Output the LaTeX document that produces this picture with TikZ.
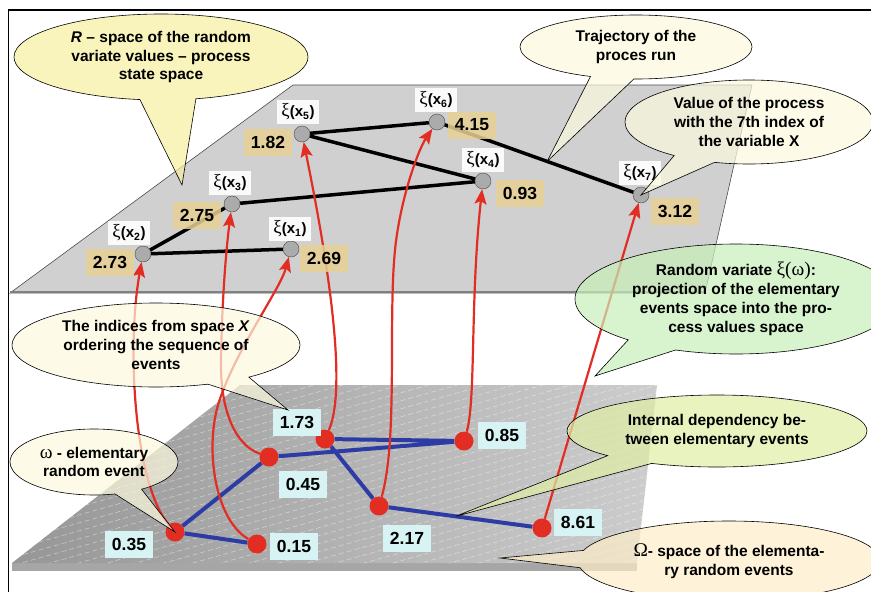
\documentclass[tikz,border=0pt]{standalone}
\usepackage{fontspec}
\setmainfont{Liberation Sans}
\newfontfamily\symfont[Scale=1.25]{Liberation Serif}
\usetikzlibrary{shapes.callouts,shapes.geometric,arrows.meta,calc}

\definecolor{planeup}{RGB}{208,208,208}
\definecolor{planelo}{RGB}{150,150,150}
\definecolor{planelotwo}{RGB}{205,205,205}
\definecolor{evred}{RGB}{226,45,35}
\definecolor{depblue}{RGB}{45,60,165}
\definecolor{valtan}{RGB}{232,208,148}
\definecolor{evcyan}{RGB}{215,243,243}
\definecolor{bubyellow}{RGB}{247,239,160}
\definecolor{bubcream}{RGB}{252,250,222}
\definecolor{bubgreen}{RGB}{200,240,185}
\definecolor{bublime}{RGB}{222,238,165}
\definecolor{bubpeach}{RGB}{253,238,200}

\newcommand{\gr}[1]{{\symfont\mdseries #1}}

\tikzset{
	xinode/.style={circle,draw=black!70,fill=black!33,minimum size=16pt,inner sep=0pt},
	evnode/.style={circle,fill=evred,minimum size=19pt,inner sep=0pt},
	xilabel/.style={fill=white,fill opacity=.9,text opacity=1,minimum width=42pt,minimum height=24pt,inner sep=0pt,font=\fontsize{15}{17}\selectfont\bfseries},
	valbox/.style={fill=valtan,fill opacity=.85,text opacity=1,minimum width=48pt,minimum height=27pt,inner sep=0pt,font=\fontsize{17.5}{20}\selectfont\bfseries},
	evbox/.style={valbox,fill=evcyan,fill opacity=1},
	traj/.style={line width=3.5pt,black},
	dep/.style={line width=4pt,depblue},
	proj/.style={line width=2.2pt,evred,-{Stealth[length=15pt,width=12pt,inset=3pt]}},
	bubble/.style={ellipse callout,draw=black,line width=.6pt,fill opacity=.7,text opacity=1,align=center,inner sep=0pt,font=\fontsize{15.5}{18.8}\selectfont\bfseries},
	stripe/.style={white,opacity=.45,line width=.6pt,dash pattern=on 5pt off 3pt}
}

\begin{document}
\begin{tikzpicture}[x=1pt,y=-1pt]
	\useasboundingbox (0,0) rectangle (871,592);
	\draw[line width=1.2pt] (871,10) -- (8.5,10) -- (8.5,592);
	
	%LOWER PLANE
	\fill[black!35] (12,563) rectangle (637,571);
	\shade[left color=planelo,right color=planelotwo] (240,385) -- (657,385) -- (637,563) -- (12,563) -- cycle;
	\begin{scope}
		\clip (240,385) -- (657,385) -- (637,563) -- (12,563) -- cycle;
		\foreach \k in {0,...,46}
			\draw[stripe] (0,385+8*\k) -- ++(700,-196);
	\end{scope}
	
	%UPPER PLANE
	\filldraw[fill=planeup,draw=black!70,line width=.6pt] (293,85) -- (752,85) -- (705,293) -- (10,293) -- cycle;
	\draw[black!50,line width=2.5pt] (10,292) -- (705,292);
	
	%ELEMENTARY EVENTS
	\node[evnode] (e1) at (257,544) {};
	\node[evnode] (e2) at (175,532) {};
	\node[evnode] (e3) at (269,457) {};
	\node[evnode] (e4) at (464,441) {};
	\node[evnode] (e5) at (325,439) {};
	\node[evnode] (e6) at (379,506) {};
	\node[evnode] (e7) at (542,528) {};
	\draw[dep] (e1) -- (e2) -- (e3) -- (e4) -- (e5) -- (e6) -- (e7);
	
	\node[evbox] (w1) at (294,546) {0.15};
	\node[evbox] (w2) at (129,544) {0.35};
	\node[evbox] (w3) at (303,484) {0.45};
	\node[evbox] (w4) at (502,435) {0.85};
	\node[evbox] (w5) at (297,422) {1.73};
	\node[evbox] (w6) at (407,538) {2.17};
	\node[evbox] (w7) at (578,522) {8.61};
	
	%PROCESS VALUES
	\node[xinode] (xi1) at (291,249) {};
	\node[xinode] (xi2) at (143,254) {};
	\node[xinode] (xi3) at (232,204) {};
	\node[xinode] (xi4) at (483,181) {};
	\node[xinode] (xi5) at (302,134) {};
	\node[xinode] (xi6) at (437,122) {};
	\node[xinode] (xi7) at (641,195) {};
	\draw[traj] (xi1) -- (xi2) -- (xi3) -- (xi4) -- (xi5) -- (xi6) -- (xi7);
	
	%PROJECTIONS
	\draw[proj] (e1) .. controls (215,520) and (205,450) .. (218,405) .. controls (235,350) and (280,290) .. (xi1);
	\draw[proj] (e2) .. controls (135,485) and (126,350) .. (xi2);
	\draw[proj] (e3) .. controls (235,445) and (220,410) .. (221,360) .. controls (222,300) and (226,250) .. (xi3);
	\draw[proj] (e4) .. controls (476,400) and (470,300) .. (xi4);
	\draw[proj] (e5) .. controls (342,400) and (340,320) .. (xi5);
	\draw[proj] (e6) .. controls (398,440) and (388,320) .. (395,250) .. controls (400,200) and (418,150) .. (xi6);
	\draw[proj] (e7) -- (xi7);
	
	\node[xilabel] (l1) at (290,229) {\gr{ξ}(x\textsubscript{1})};
	\node[xilabel] (l2) at (129,233) {\gr{ξ}(x\textsubscript{2})};
	\node[xilabel] (l3) at (230,183) {\gr{ξ}(x\textsubscript{3})};
	\node[xilabel] (l4) at (483,160) {\gr{ξ}(x\textsubscript{4})};
	\node[xilabel] (l5) at (298,112) {\gr{ξ}(x\textsubscript{5})};
	\node[xilabel] (l6) at (436,100) {\gr{ξ}(x\textsubscript{6})};
	\node[xilabel] (l7) at (640,173) {\gr{ξ}(x\textsubscript{7})};
	
	\node[valbox] (v1) at (324,258) {2.69};
	\node[valbox] (v2) at (110,262) {2.73};
	\node[valbox] (v3) at (197,215) {2.75};
	\node[valbox] (v4) at (520,193) {0.93};
	\node[valbox] (v5) at (268,142) {1.82};
	\node[valbox] (v6) at (472,125) {4.15};
	\node[valbox] (v7) at (675,211) {3.12};
	
	%CALLOUTS
	\node[bubble,fill=bubyellow,minimum width=294pt,minimum height=86pt,callout absolute pointer={(182,185)},callout pointer arc=22] (rspace) at (161,57) {\textit{R} – space of the random\\variate values – process\\state space};
	\node[bubble,fill=bubcream,minimum width=232pt,minimum height=64pt,callout absolute pointer={($(xi6)!0.54!(xi7)$)},callout pointer arc=22] (trajc) at (636,47) {Trajectory of the\\proces run};
	\node[bubble,fill=bubcream,minimum width=248pt,minimum height=84pt,callout absolute pointer={(xi7.center)},callout pointer arc=21] (seventh) at (749,122) {Value of the process\\with the 7th index of\\the variable X};
	\node[bubble,fill=bubgreen,minimum width=322pt,minimum height=110pt,callout absolute pointer={(595,376)},callout pointer arc=20] (variate) at (736,299) {Random variate \gr{ξ(ω)}:\\projection of the elementary\\events space into the pro-\\cess values space};
	\node[bubble,fill=bubcream,minimum width=288pt,minimum height=84pt,callout absolute pointer={(288,410)},callout pointer arc=19] (indices) at (156,345) {The indices from space \textit{X}\\ordering the sequence of\\events};
	\node[bubble,fill=bubcream,minimum width=168pt,minimum height=66pt,callout absolute pointer={(e2.center)},callout pointer arc=20] (omega) at (94,462) {\gr{ω} - elementary\\random event};
	\node[bubble,fill=bublime,minimum width=300pt,minimum height=72pt,callout absolute pointer={($(e6)!0.47!(e7)$)},callout pointer arc=21] (internal) at (717,431) {Internal dependency be-\\tween elementary events};
	\node[bubble,fill=bubpeach,minimum width=302pt,minimum height=80pt,callout absolute pointer={(500,558)},callout pointer arc=25] (bigomega) at (729,561) {\gr{Ω}- space of the elementa-\\ry random events};
\end{tikzpicture}
\end{document}
